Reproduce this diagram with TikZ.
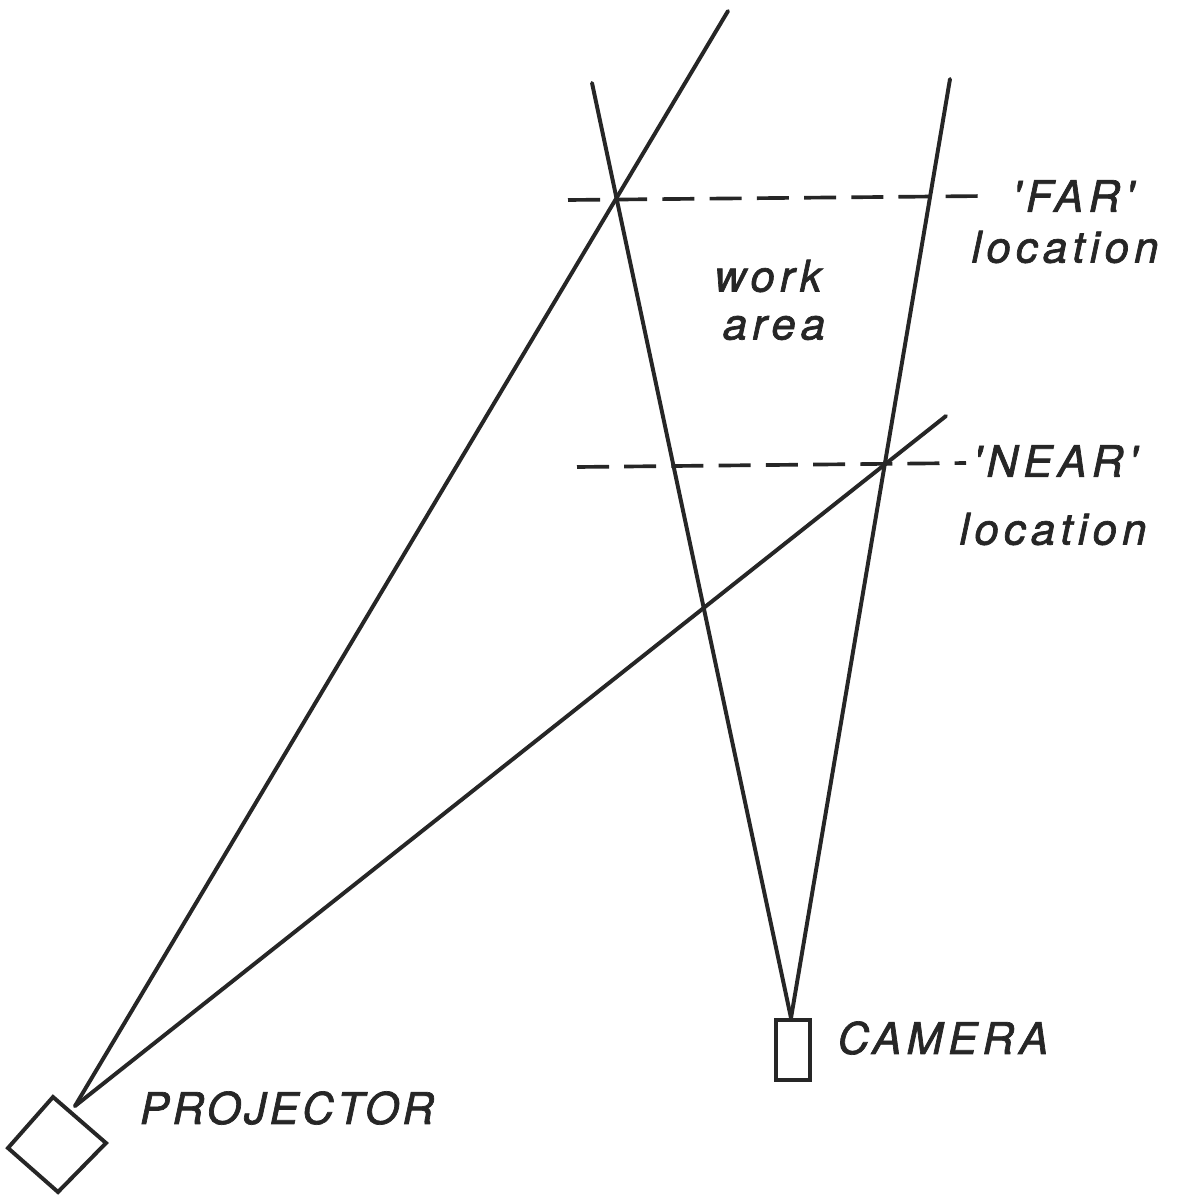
\documentclass[tikz,border=0pt]{standalone}
\usepackage{fontspec}
\setmainfont{TeX Gyre Heros}[LetterSpace=12, Ligatures=TeXOff, FakeBold=1.6]
\begin{document}
\begin{tikzpicture}[x=0.025cm,y=-0.025cm,
  ln/.style={line width=2.8pt, line cap=round, black!85},
  dsh/.style={line width=2.6pt, black!85, dash pattern=on 0.8cm off 0.38cm},
  lbl/.style={font=\fontsize{31}{36}\selectfont\itshape, text=black!85, inner sep=0pt}]
\useasboundingbox[fill=white] (0,0) rectangle (1183,1195);
% projector
\draw[ln, line cap=butt, line join=miter] (53,1097) coordinate (pt) -- (106,1143) -- (58,1192) -- (8,1148) -- cycle;
\coordinate (papex) at (75,1106);
\coordinate (ptop) at (728,11);
\coordinate (pend) at (946,416);
\draw[ln] (papex) -- (ptop);
\draw[ln] (papex) -- (pend);
% camera
\draw[ln, line cap=butt, line join=miter] (776,1020) rectangle (810,1080);
\coordinate (capex) at (791,1018);
\coordinate (cl) at (592,83);
\coordinate (cr) at (950,79);
\draw[ln] (capex) -- (cl);
\draw[ln] (capex) -- (cr);
% dashed levels
\coordinate (f1) at (568,200);
\coordinate (f2) at (985,196);
\coordinate (n1) at (577,467);
\coordinate (n2) at (966,463);
\draw[dsh] (f1) -- (f2);
\draw[dsh] (n1) -- (n2);
% labels
\node[lbl] (far) at (1073,196) {'FAR'};
\node[lbl] (farloc) at (1065,247) {location};
\node[lbl] (work) at (768,276) {work};
\node[lbl] (area) at (774,328) {area};
\node[lbl] (near) at (1055,461) {'NEAR'};
\node[lbl] (nearloc) at (1053,529) {location};
\node[lbl] (camera) at (943,1038) {CAMERA};
\node[lbl, font=\fontsize{31}{36}\selectfont\itshape\addfontfeature{LetterSpace=8}] (projector) at (287,1108) {PROJECTOR};
\end{tikzpicture}
\end{document}
